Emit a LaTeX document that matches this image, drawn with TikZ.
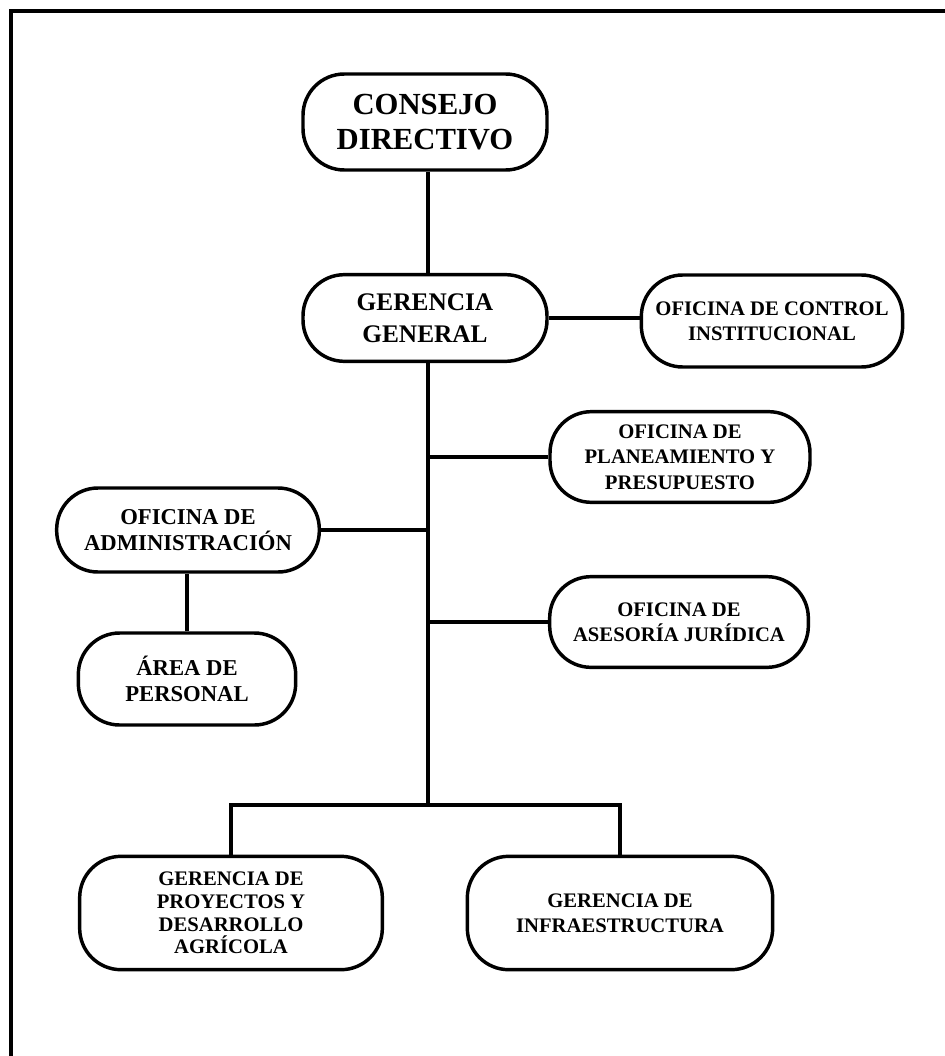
\documentclass[tikz,border=0pt]{standalone}
\usepackage{fontspec}
\setmainfont{Liberation Serif}
\usepackage{tikz}

\tikzset{
  unidad/.style={draw, line width=2.6pt, rounded corners=31pt, align=center,
    font=\bfseries\fontsize{15.5pt}{19pt}\selectfont, inner sep=0pt},
  enlace/.style={line width=3pt}
}

\begin{document}
\begin{tikzpicture}[x=0.75pt, y=-0.75pt]
        \useasboundingbox (0,0) rectangle (945,1056);
        \draw[line width=2.4pt] (11,1056) -- (11,11) -- (945,11);

        \node[unidad, minimum width=183pt, minimum height=72pt,
          font=\bfseries\fontsize{23pt}{26pt}\selectfont] (consejo) at (425,122) {CONSEJO\\DIRECTIVO};
        \node[unidad, minimum width=183pt, minimum height=65pt,
          font=\bfseries\fontsize{19pt}{24pt}\selectfont] (gerencia) at (425,318) {GERENCIA\\GENERAL};
        \node[unidad, minimum width=196pt, minimum height=69pt] (control) at (772,321) {OFICINA DE CONTROL\\INSTITUCIONAL};
        \node[unidad, minimum width=195pt, minimum height=68pt] (planeamiento) at (680,457) {OFICINA DE\\PLANEAMIENTO Y\\PRESUPUESTO};
        \node[unidad, minimum width=197pt, minimum height=63pt, font=\bfseries\fontsize{17pt}{20pt}\selectfont] (administracion) at (188,530) {OFICINA DE\\ADMINISTRACIÓN};
        \node[unidad, minimum width=163pt, minimum height=69pt, font=\bfseries\fontsize{17pt}{20pt}\selectfont] (personal) at (187,679) {ÁREA DE\\PERSONAL};
        \node[unidad, minimum width=194pt, minimum height=68pt] (asesoria) at (679,622) {OFICINA DE\\ASESORÍA JURÍDICA};
        \node[unidad, minimum width=227pt, minimum height=85pt, font=\bfseries\fontsize{15.5pt}{17pt}\selectfont] (proyectos) at (231,913) {GERENCIA DE\\PROYECTOS Y\\DESARROLLO\\AGRÍCOLA};
        \node[unidad, minimum width=229pt, minimum height=85pt] (infraestructura) at (620,913) {GERENCIA DE\\INFRAESTRUCTURA};

        \coordinate (tronco) at (428,805);

        \draw[enlace] (tronco |- consejo.south) -- (tronco |- gerencia.north);
        \draw[enlace] (tronco |- gerencia.south) -- (tronco);
        \draw[enlace] (gerencia.east) -- (gerencia.east -| control.west);
        \draw[enlace] (planeamiento.west) -- (planeamiento.west -| tronco);
        \draw[enlace] (asesoria.west) -- (asesoria.west -| tronco);
        \draw[enlace] (administracion.east) -- (administracion.east -| tronco);
        \draw[enlace] (personal.north) -- (personal.north |- administracion.south);
        \draw[enlace] (proyectos.north) |- (tronco) -| (infraestructura.north);
\end{tikzpicture}
\end{document}
